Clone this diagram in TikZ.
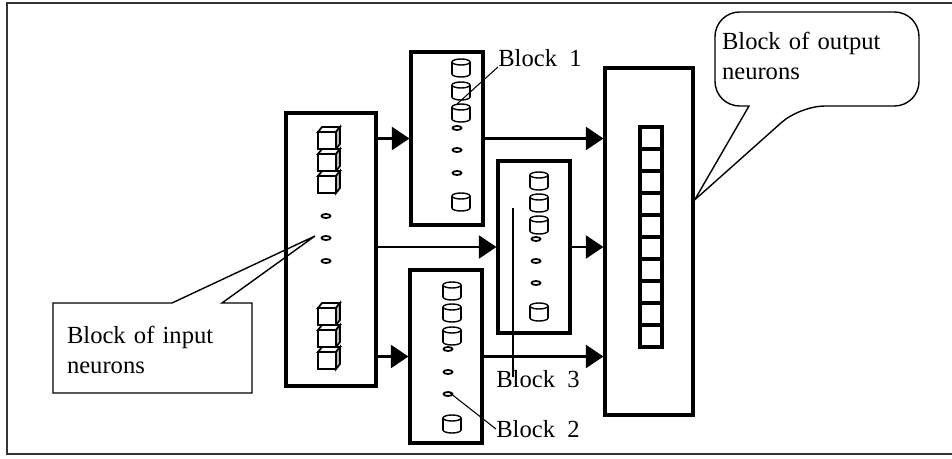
\documentclass[tikz,border=0pt]{standalone}
\usepackage{fontspec}
\setmainfont{Liberation Serif}
\usetikzlibrary{arrows.meta}

\tikzstyle{layer} = [
    rectangle,
    line width=1.8pt,
    draw=black,
    fill=white
]
\tikzstyle{blocktext} = [
    font=\fontsize{14}{17}\selectfont,
    align=left,
    inner sep=0pt
]
\tikzstyle{callout} = [line width=0.8pt, draw=black]
\tikzstyle{leader} = [line width=0.6pt]
\tikzstyle{arrow} = [line width=1.7pt, -{Triangle[length=10pt,width=13pt]}]

% input neuron: a small cube, #1 = left x, #2 = top y
\newcommand{\incube}[2]{%
  \draw[line width=1pt, fill=white] (#1,#2+5) -- (#1+4,#2) -- (#1+22,#2) -- (#1+18,#2+5) -- cycle;
  \draw[line width=1pt, fill=gray!55] (#1+18,#2+5) -- (#1+22,#2) -- (#1+22,#2+17) -- (#1+18,#2+22) -- cycle;
  \draw[line width=1pt, fill=white] (#1,#2+5) rectangle (#1+18,#2+22);
}
% hidden neuron: a small can, #1 = centre x, #2 = top y
\newcommand{\neurocan}[2]{%
  \draw[line width=0.8pt, fill=white] (#1,#2+15) ellipse [x radius=9, y radius=3];
  \fill[white] (#1-9,#2+3) rectangle (#1+9,#2+15);
  \draw[line width=0.8pt] (#1-9,#2+3) -- (#1-9,#2+15) (#1+9,#2+3) -- (#1+9,#2+15);
  \draw[line width=0.8pt, fill=white] (#1,#2+3) ellipse [x radius=9, y radius=3];
}
\newcommand{\neurodot}[2]{%
  \draw[line width=1pt, fill=white] (#1,#2) ellipse [x radius=4.5, y radius=2];
}

\begin{document}
\begin{tikzpicture}[x=0.02cm, y=-0.02cm]

\useasboundingbox (0,0) rectangle (952,459);
\draw[line width=1pt, black!80] (952,454) -- (7,454) -- (7,3) -- (952,3);

% blocks
\node (input) [layer, minimum width=1.8cm, minimum height=5.46cm] at (331,249.5) {};
\node (block1) [layer, minimum width=1.44cm, minimum height=3.46cm] at (447,138.5) {};
\node (block3) [layer, minimum width=1.44cm, minimum height=3.44cm] at (534,247) {};
\node (block2) [layer, minimum width=1.44cm, minimum height=3.46cm] at (446,356.5) {};
\node (output) [layer, minimum width=1.76cm, minimum height=6.94cm] at (649,241.5) {};

% input neurons
\incube{318}{127}
\incube{318}{149}
\incube{318}{171}
\neurodot{326}{216}
\neurodot{326}{238}
\neurodot{326}{261}
\incube{318}{303}
\incube{318}{325}
\incube{318}{347}

% block 1
\neurocan{461}{59}
\neurocan{461}{82}
\neurocan{461}{104}
\neurodot{457}{128}
\neurodot{457}{150}
\neurodot{457}{173}
\neurocan{461}{193}

% block 3
\neurocan{539}{172}
\neurocan{539}{194}
\neurocan{539}{216}
\neurodot{536}{239}
\neurodot{536}{261}
\neurodot{536}{283}
\neurocan{539}{303}

% block 2
\neurocan{452}{282}
\neurocan{452}{304}
\neurocan{452}{327}
\neurodot{448}{349}
\neurodot{448}{372}
\neurodot{448}{394}
\neurocan{452}{415}

% output neurons
\foreach \i in {0,...,9}
  \draw[line width=2pt, fill=white] (640,127+22*\i) rectangle (662,149+22*\i);

% connections
\draw [arrow] (input.east |- block1.west) -- (block1.west);
\draw [arrow] (input.east |- block3.west) -- (block3.west);
\draw [arrow] (input.east |- block2.west) -- (block2.west);
\draw [arrow] (block1.east) -- (block1.east -| output.west);
\draw [arrow] (block3.east) -- (block3.east -| output.west);
\draw [arrow] (block2.east) -- (block2.east -| output.west);

% labels
\coordinate (b1pt) at (457,104);
\coordinate (b3pt) at (513,208);
\coordinate (b2pt) at (450,393);
\node (lbl1) [blocktext] at (540,58) {Block~~1};
\node (lbl3) [blocktext] at (538,379) {Block~~3};
\node (lbl2) [blocktext] at (538,429) {Block~~2};
\draw [leader] (b1pt) -- (lbl1.south west);
\draw [leader] (b3pt) -- ([yshift=-4pt]b3pt |- lbl3.north);
\draw [leader] (b2pt) -- (lbl2.west);

% callouts
\coordinate (intip) at (315,236);
\coordinate (outtip) at (output.east |- 0,200);
\draw [callout] (172,303) -- (53,303) -- (53,393) -- (252,393) -- (252,303) -- (222,303) -- (intip) -- cycle;
\draw [callout, rounded corners=14pt] (749,106) -- (715,106) -- (715,12) -- (919,12) -- (919,106) -- (800,106)
  [sharp corners] -- (outtip) -- cycle;
\node (inlabel) [blocktext, text width=3.32cm] at (150,350)
{\makebox[\hsize][s]{Block of input}\\neurons};
\node (outlabel) [blocktext, text width=3.6cm] at (812,56)
{\makebox[\hsize][s]{Block of output}\\neurons};

\end{tikzpicture}
\end{document}
